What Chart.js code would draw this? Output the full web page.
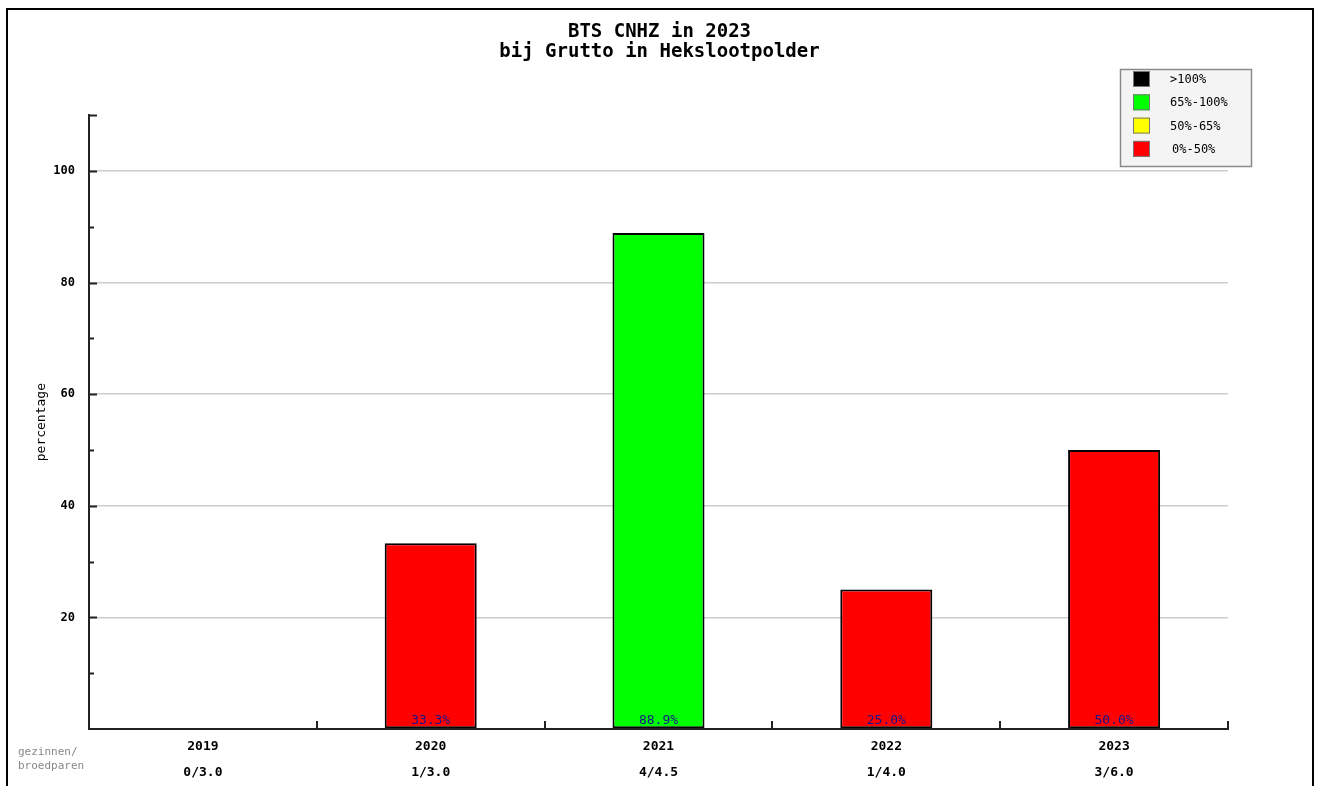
<!DOCTYPE html>
<html>
<head>
<meta charset="utf-8">
<script src="https://cdn.jsdelivr.net/npm/chart.js@4/dist/chart.umd.min.js"></script>
<style>
  body { margin: 0; background: #fff; }
  #frame { position: absolute; left: 6px; top: 8px; width: 1304px; height: 820px; border: 2px solid #000; }
  #chart { position: absolute; left: 0; top: 0; }
</style>
</head>
<body>
<div id="frame"></div>
<canvas id="chart" width="1319" height="786"></canvas>
<script>
// chart data
const years = ['2019', '2020', '2021', '2022', '2023'];
const ratios = ['0/3.0', '1/3.0', '4/4.5', '1/4.0', '3/6.0'];
const percentages = [0, 33.3, 88.9, 25.0, 50.0];

// legend bands (lower bound, label, colour)
const bandLabels = ['>100%', '65%-100%', '50%-65%', '0%-50%'];
const bandLower = [100, 65, 50, 0];
const bandColors = ['#000000', '#00ff00', '#ffff00', '#ff0000'];

const MONO = "'DejaVu Sans Mono', 'Liberation Mono', monospace";

function colorFor(v) {
    for (let i = 0; i < bandLower.length; i++) {
        if (v > bandLower[i]) return bandColors[i];
    }
    return bandColors[bandColors.length - 1];
}

// tick marks inside the plot, value labels, legend box and row caption
const extras = {
    id: 'extras',
    afterDraw(chart) {
        const ctx = chart.ctx;
        const x = chart.scales.x;
        const y = chart.scales.y;
        const area = chart.chartArea;
        ctx.save();

        // y ticks pointing right
        ctx.strokeStyle = '#222';
        ctx.lineWidth = 2;
        for (let v = 10; v <= 110; v += 10) {
            const py = Math.round(y.getPixelForValue(v)) + 0.5;
            const len = (v % 20 === 0 || v === 110) ? 8 : 5;
            ctx.beginPath();
            ctx.moveTo(area.left, py);
            ctx.lineTo(area.left + len, py);
            ctx.stroke();
        }

        // x category separators pointing up
        const half = (x.getPixelForValue(1) - x.getPixelForValue(0)) / 2;
        for (let i = 0; i < years.length; i++) {
            const px = Math.round(x.getPixelForValue(i) + half);
            ctx.beginPath();
            ctx.moveTo(px, area.bottom);
            ctx.lineTo(px, area.bottom - 8);
            ctx.stroke();
        }

        // percentage labels at bar bottoms
        ctx.fillStyle = '#14148c';
        ctx.font = '13px ' + MONO;
        ctx.textAlign = 'center';
        ctx.textBaseline = 'middle';
        chart.getDatasetMeta(0).data.forEach((bar, i) => {
            if (percentages[i] > 0) {
                ctx.fillText(percentages[i].toFixed(1) + '%', bar.x, area.bottom - 8);
            }
        });

        // row caption
        ctx.fillStyle = '#888';
        ctx.font = '11px ' + MONO;
        ctx.textAlign = 'left';
        ctx.fillText('gezinnen/', 18, 752);
        ctx.fillText('broedparen', 18, 766);

        // legend box
        ctx.fillStyle = '#f4f4f4';
        ctx.fillRect(1120, 69, 131, 97);
        ctx.strokeStyle = '#8a8a8a';
        ctx.lineWidth = 1.5;
        ctx.strokeRect(1120.5, 69.5, 131, 97);
        ctx.font = '12px ' + MONO;
        bandLabels.forEach((lab, i) => {
            const cy = 79 + i * 23.3;
            ctx.fillStyle = bandColors[i];
            ctx.fillRect(1133, cy - 8, 17, 16);
            ctx.strokeStyle = '#777';
            ctx.lineWidth = 1;
            ctx.strokeRect(1133.5, cy - 7.5, 16, 15);
            ctx.fillStyle = '#000';
            ctx.fillText(lab, i === 3 ? 1172 : 1170, cy + 1);
        });
        ctx.restore();
    }
};

new Chart(document.getElementById('chart'), {
    type: 'bar',
    data: {
        labels: years.map((yr, i) => [yr, ratios[i]]),
        datasets: [{
            data: percentages,
            backgroundColor: percentages.map(colorFor),
            borderColor: '#000',
            borderWidth: 2,
            borderSkipped: false,
            categoryPercentage: 1,
            barPercentage: 0.404
        }]
    },
    options: {
        responsive: false,
        animation: false,
        devicePixelRatio: 1,
        plugins: {
            legend: { display: false },
            tooltip: { enabled: false },
            title: {
                display: true,
                text: ['BTS CNHZ in 2023', 'bij Grutto in Hekslootpolder'],
                color: '#000',
                font: { family: MONO, size: 19, weight: 'bold', lineHeight: 1.06 },
                padding: { top: 22, bottom: 53 }
            }
        },
        scales: {
            x: {
                grid: { display: false, drawTicks: false },
                border: { display: true, color: '#222', width: 2 },
                ticks: {
                    color: '#000',
                    padding: 5,
                    maxRotation: 0,
                    font: { family: MONO, size: 13, weight: 'bold', lineHeight: 2 }
                },
                afterFit(scale) { scale.height = 57; }
            },
            y: {
                min: 0,
                max: 110,
                grid: {
                    drawTicks: false,
                    color: ctx => (ctx.tick && ctx.tick.value > 0 && ctx.tick.value <= 100 && ctx.tick.value % 20 === 0) ? '#cdcdcd' : 'rgba(0,0,0,0)',
                    lineWidth: 1.5
                },
                border: { display: true, color: '#222', width: 2 },
                ticks: {
                    stepSize: 10,
                    padding: 14,
                    color: '#000',
                    font: { family: MONO, size: 12, weight: 'bold' },
                    callback: v => (v > 0 && v <= 100 && v % 20 === 0) ? v : ''
                },
                title: {
                    display: true,
                    text: 'percentage',
                    color: '#000',
                    font: { family: MONO, size: 13 },
                    padding: { top: 34 }
                },
                afterFit(scale) { scale.width = 89; }
            },
            // empty right axis, only keeps the right margin free
            yRight: {
                position: 'right',
                min: 0,
                max: 110,
                grid: { display: false, drawTicks: false },
                border: { display: false },
                ticks: { display: false },
                afterFit(scale) { scale.width = 91; }
            }
        }
    },
    plugins: [extras]
});
</script>
</body>
</html>
